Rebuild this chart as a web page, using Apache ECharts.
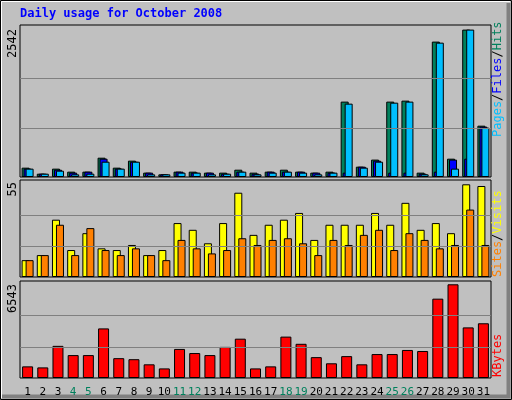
<!DOCTYPE html>
<html><head><meta charset="utf-8">
<script src="https://cdn.jsdelivr.net/npm/echarts@6/dist/echarts.min.js"></script>
<style>html,body{margin:0;padding:0;background:#fff}#c{width:512px;height:400px}</style>
</head><body><div id="c"></div>
<script>
const days = ['1','2','3','4','5','6','7','8','9','10','11','12','13','14','15','16','17','18','19','20','21','22','23','24','25','26','27','28','29','30','31'];
const weekendDays = ['4','5','11','12','18','19','25','26'];
const hits  = [161,57,144,92,92,333,161,282,75,46,92,92,75,75,126,75,92,126,92,75,92,1300,178,300,1300,1317,75,2335,316,2542,885];
const files = [144,57,126,75,92,316,144,264,75,46,92,75,75,57,92,57,92,92,92,75,75,75,178,282,75,75,57,92,300,316,868];
const pages = [144,57,109,46,57,264,144,264,46,46,75,75,46,57,92,46,75,92,75,46,75,1265,161,264,1282,1300,46,2317,144,2542,851];
const visits = [10,13,34,16,26,17,16,19,13,16,32,28,20,32,50,25,31,34,38,22,31,31,31,38,31,44,28,32,26,55,54];
const sites  = [10,13,31,13,29,16,13,17,13,10,22,17,14,16,23,19,22,23,20,13,22,19,25,28,16,26,22,17,19,40,19];
const kbytes = [812,740,2245,1600,1600,3463,1385,1313,955,669,2030,1743,1600,2173,2746,669,812,2890,2388,1457,1027,1528,955,1672,1672,1958,1886,5540,6543,3534,3821];
const maxLabels = ['2542','55','6543'];

const mono = 'DejaVu Sans Mono';
const ch = echarts.init(document.getElementById('c'));
const maxH = Math.max(...hits), maxV = Math.max(...visits), maxK = Math.max(...kbytes);
const grids = [
  {left:20, right:21, top:25, height:152},
  {left:20, right:21, top:180, height:97},
  {left:20, right:21, top:281, height:97}
].map(g => Object.assign(g, {show:true, backgroundColor:'#C0C0C0', borderColor:'#000', borderWidth:1}));
const xA = i => ({type:'category', gridIndex:i, data:days, boundaryGap:true,
  axisLine:{show:false}, axisTick:{show:false}, splitLine:{show:false},
  axisLabel:{show:i===2, interval:0, margin:9, fontFamily:mono, fontSize:11,
    color: v => weekendDays.includes(v) ? '#00805C' : '#000'}});
const yA = (i,m) => ({type:'value', gridIndex:i, min:0, max:m, axisLine:{show:false}, axisTick:{show:false}, axisLabel:{show:false}, splitLine:{show:false}});
const ml = m => ({silent:true, symbol:'none', label:{show:false}, lineStyle:{color:'#808080', type:'solid', width:1.2},
  data:[{yAxis:m/3},{yAxis:2*m/3}]});
const bar = (name, data, xi, color, w, extra) => Object.assign({type:'bar', name, data, xAxisIndex:xi, yAxisIndex:xi, barWidth:w,
  itemStyle:{color, borderColor:'#000', borderWidth:1}, animation:false}, extra||{});

ch.setOption({
  animation:false,
  grid: grids,
  xAxis:[xA(0),xA(1),xA(2)],
  yAxis:[yA(0,maxH*152/147.4), yA(1,maxV*97/92.7), yA(2,maxK*97/93.7)],
  series:[
    bar('Hits', hits, 0, '#00805C', 8, {barGap:'-75%', markLine: ml(maxH), z:2}),
    bar('Files', files, 0, '#0000FF', 8, {barGap:'-75%', z:3}),
    bar('Pages', pages, 0, '#00BFFF', 8, {barGap:'-75%', z:4}),
    bar('Visits', visits, 1, '#FFFF00', 8, {barGap:'-50%', markLine: ml(maxV), z:2}),
    bar('Sites', sites, 1, '#FF8000', 8, {barGap:'-50%', z:3}),
    bar('KBytes', kbytes, 2, '#FF0000', 11, {markLine: ml(maxK)})
  ],
  graphic:[
    {type:'rect', shape:{x:0.5,y:0.5,width:511,height:399}, style:{fill:'#C0C0C0', stroke:'#000', lineWidth:1}, z:-10, silent:true},
    {type:'polyline', shape:{points:[[1.5,398],[1.5,1.5],[510,1.5]]}, style:{stroke:'#fff', fill:null, lineWidth:1}, z:-9},
    {type:'polyline', shape:{points:[[2,396.5],[508.5,396.5],[508.5,3]]}, style:{stroke:'#808080', fill:null, lineWidth:4}, z:-9},
    {type:'text', left:20, top:8, style:{text:'Daily usage for October 2008', fill:'#0000FF', font:'bold 12px "'+mono+'"'}},
    {type:'text', x:7, y:29, rotation:Math.PI/2, style:{text:maxLabels[0], fill:'#000', font:'12px "'+mono+'"', align:'right', verticalAlign:'top'}},
    {type:'text', x:7, y:182, rotation:Math.PI/2, style:{text:maxLabels[1], fill:'#000', font:'12px "'+mono+'"', align:'right', verticalAlign:'top'}},
    {type:'text', x:7, y:284, rotation:Math.PI/2, style:{text:maxLabels[2], fill:'#000', font:'12px "'+mono+'"', align:'right', verticalAlign:'top'}},
    {type:'text', x:492, y:137, rotation:Math.PI/2, style:{text:'{p|Pages}{s|/}{f|Files}{s|/}{h|Hits}', align:'left', verticalAlign:'top', font:'12px "'+mono+'"',
      rich:{p:{fill:'#00BFFF',font:'12px "'+mono+'"'}, f:{fill:'#0000FF',font:'12px "'+mono+'"'}, h:{fill:'#00805C',font:'12px "'+mono+'"'}, s:{fill:'#000',font:'12px "'+mono+'"'}}}},
    {type:'text', x:492, y:277, rotation:Math.PI/2, style:{text:'{a|Sites}{s|/}{b|Visits}', align:'left', verticalAlign:'top', font:'12px "'+mono+'"',
      rich:{a:{fill:'#FF8000',font:'12px "'+mono+'"'}, b:{fill:'#FFFF00',font:'12px "'+mono+'"'}, s:{fill:'#000',font:'12px "'+mono+'"'}}}},
    {type:'text', x:492, y:377, rotation:Math.PI/2, style:{text:'KBytes', fill:'#FF0000', align:'left', verticalAlign:'top', font:'12px "'+mono+'"'}}
  ]
});
</script></body></html>
